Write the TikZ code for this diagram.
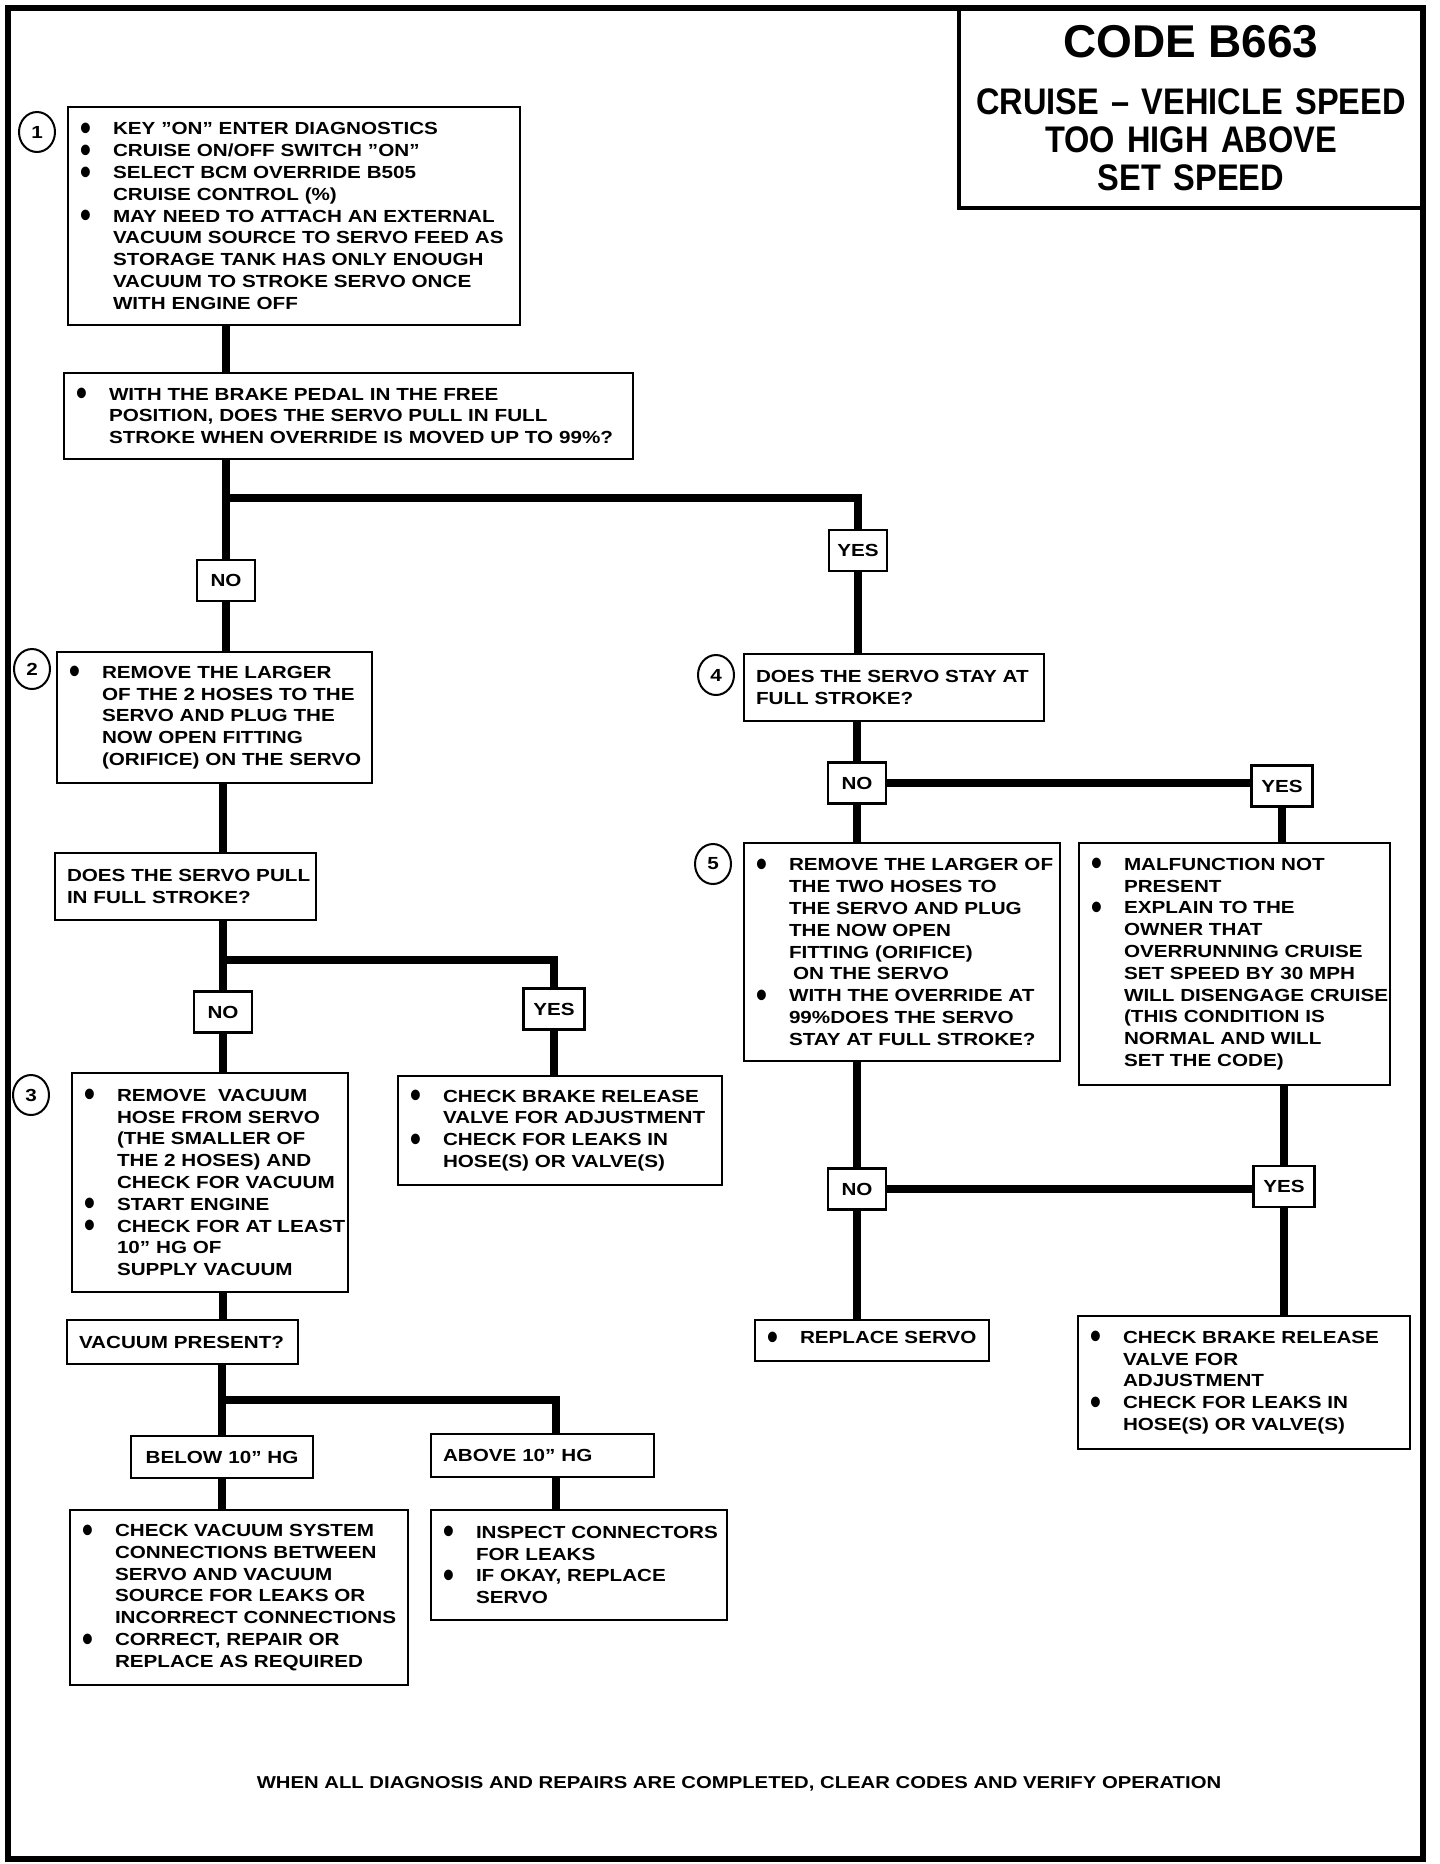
\documentclass[tikz,border=0pt]{standalone}
\usepackage{fontspec}
\usetikzlibrary{shapes.geometric}
\newfontfamily\bodyfont{Liberation Sans}[FakeStretch=1.18]
\newfontfamily\titlefont{Liberation Sans}
\newfontfamily\titlenarrow{Liberation Sans}[FakeStretch=0.88]
% 箇条書きの点と字下げ
\newcommand{\bdot}{\makebox[33pt][l]{\hspace{0pt}\raisebox{-5.6pt}{\scalebox{1.5}[2.1]{\textbullet}}}}
\newcommand{\bi}[1]{\mbox{\bdot#1}}
\newcommand{\ci}[1]{\mbox{\hspace*{33pt}#1}}

\begin{document}
\begin{tikzpicture}[x=1pt, y=-1pt,
    every node/.style={font=\bodyfont\bfseries\fontsize{17.5}{21.8}\selectfont},
    box/.style={draw, line width=2.8pt, inner xsep=12pt, inner ysep=0pt, align=left},
    yn/.style={draw, line width=2.8pt, inner sep=0pt, minimum width=58pt, minimum height=41pt},
    num/.style={draw, ellipse, line width=2pt, inner sep=0pt, minimum width=36pt, minimum height=40pt},
    conn/.style={line width=7.5pt}]
    \useasboundingbox (0,0) rectangle (1440,1864);

    % 外枠
    \draw[line width=6.5pt] (8,8) rectangle (1423,1859);

    % 表題
    \node[draw, line width=3.5pt, inner sep=0pt, minimum width=464pt, minimum height=200pt,
          text width=460pt, align=center, font=\titlefont\bfseries\fontsize{37}{38}\selectfont] (title) at (1191,108)
        {\mbox{\fontsize{46}{38}\selectfont CODE B663}\\[19pt]
         \titlenarrow\mbox{CRUISE – VEHICLE SPEED}\\\mbox{TOO HIGH ABOVE}\\\mbox{SET SPEED}};

    % 手順 1
    \node[num] (n1) at (37,132) {1};
    \node[box, text width=428pt, minimum height=218pt] (box1) at (294,216)
        {\bi{KEY ”ON” ENTER DIAGNOSTICS}\\
         \bi{CRUISE ON/OFF SWITCH ”ON”}\\
         \bi{SELECT BCM OVERRIDE B505}\\
         \ci{CRUISE CONTROL (\%)}\\
         \bi{MAY NEED TO ATTACH AN EXTERNAL}\\
         \ci{VACUUM SOURCE TO SERVO FEED AS}\\
         \ci{STORAGE TANK HAS ONLY ENOUGH}\\
         \ci{VACUUM TO STROKE SERVO ONCE}\\
         \ci{WITH ENGINE OFF}};

    % 最初の問い
    \node[box, text width=545pt, minimum height=86pt] (q1) at (348.5,416)
        {\bi{WITH THE BRAKE PEDAL IN THE FREE}\\
         \ci{POSITION, DOES THE SERVO PULL IN FULL}\\
         \ci{STROKE WHEN OVERRIDE IS MOVED UP TO 99\%?}};

    % 分岐(NO / YES)
    \node[yn] (no1) at (226,580.5) {NO};
    \node[yn] (yes1) at (858,550.5) {YES};
    \coordinate (br1) at (226,498);

    % 手順 2
    \node[num] (n2) at (32,669) {2};
    \node[box, text width=291pt, minimum height=131pt] (step2) at (214.5,717.5)
        {\bi{REMOVE THE LARGER}\\
         \ci{OF THE 2 HOSES TO THE}\\
         \ci{SERVO AND PLUG THE}\\
         \ci{NOW OPEN FITTING}\\
         \ci{(ORIFICE) ON THE SERVO}};

    \node[box, text width=237pt, minimum height=67pt] (q2) at (185.5,886.5)
        {\mbox{DOES THE SERVO PULL}\\\mbox{IN FULL STROKE?}};

    \node[yn] (no2) at (223,1012) {NO};
    \node[yn, minimum width=61pt] (yes2) at (554,1009) {YES};
    \coordinate (br2) at (223,960);

    % 手順 3
    \node[num] (n3) at (31,1095) {3};
    \node[box, text width=252pt, minimum height=219pt] (step3) at (210,1182.5)
        {\bi{REMOVE\ \ VACUUM}\\
         \ci{HOSE FROM SERVO}\\
         \ci{(THE SMALLER OF}\\
         \ci{THE 2 HOSES) AND}\\
         \ci{CHECK FOR VACUUM}\\
         \bi{START ENGINE}\\
         \bi{CHECK FOR AT LEAST}\\
         \ci{10” HG OF}\\
         \ci{SUPPLY VACUUM}};

    \node[box, text width=300pt, minimum height=109pt] (chk1) at (560,1130.5)
        {\bi{CHECK BRAKE RELEASE}\\
         \ci{VALVE FOR ADJUSTMENT}\\
         \bi{CHECK FOR LEAKS IN}\\
         \ci{HOSE(S) OR VALVE(S)}};

    % 負圧の確認
    \node[box, text width=207pt, minimum height=44pt] (vac) at (182.5,1342) {\mbox{VACUUM PRESENT?}};
    \node[box, text width=158pt, minimum height=42pt, align=center] (below) at (222,1457) {\mbox{BELOW 10” HG}};
    \node[box, text width=199pt, minimum height=43pt] (above) at (542.5,1455.5) {\mbox{ABOVE 10” HG}};
    \coordinate (br3) at (222,1400);

    \node[box, text width=314pt, minimum height=175pt] (chkvac) at (239,1597.5)
        {\bi{CHECK VACUUM SYSTEM}\\
         \ci{CONNECTIONS BETWEEN}\\
         \ci{SERVO AND VACUUM}\\
         \ci{SOURCE FOR LEAKS OR}\\
         \ci{INCORRECT CONNECTIONS}\\
         \bi{CORRECT, REPAIR OR}\\
         \ci{REPLACE AS REQUIRED}};

    \node[box, text width=272pt, minimum height=110pt] (inspect) at (579,1565)
        {\bi{INSPECT CONNECTORS}\\
         \ci{FOR LEAKS}\\
         \bi{IF OKAY, REPLACE}\\
         \ci{SERVO}};

    % 手順 4
    \node[num] (n4) at (716,675) {4};
    \node[box, text width=276pt, minimum height=67pt] (step4) at (894,687.5)
        {\mbox{DOES THE SERVO STAY AT}\\\mbox{FULL STROKE?}};

    \node[yn] (no3) at (857,783) {NO};
    \node[yn, minimum width=61pt] (yes3) at (1282,786) {YES};

    % 手順 5
    \node[num] (n5) at (713,864) {5};
    \node[box, text width=292pt, minimum height=218pt] (step5) at (902,952)
        {\bi{REMOVE THE LARGER OF}\\
         \ci{THE TWO HOSES TO}\\
         \ci{THE SERVO AND PLUG}\\
         \ci{THE NOW OPEN}\\
         \ci{FITTING (ORIFICE)}\\
         \ci{\hspace{4pt}ON THE SERVO}\\
         \bi{WITH THE OVERRIDE AT}\\
         \ci{99\%DOES THE SERVO}\\
         \ci{STAY AT FULL STROKE?}};

    \node[box, text width=287pt, minimum height=242pt] (malf) at (1234.5,964)
        {\bi{MALFUNCTION NOT}\\
         \ci{PRESENT}\\
         \bi{EXPLAIN TO THE}\\
         \ci{OWNER THAT}\\
         \ci{OVERRUNNING CRUISE}\\
         \ci{SET SPEED BY 30 MPH}\\
         \ci{WILL DISENGAGE CRUISE}\\
         \ci{(THIS CONDITION IS}\\
         \ci{NORMAL AND WILL}\\
         \ci{SET THE CODE)}};

    \node[yn] (no4) at (857,1189) {NO};
    \node[yn, minimum width=61pt] (yes4) at (1284,1186.5) {YES};

    \node[box, text width=210pt, minimum height=41pt] (replace) at (872,1340.5) {\bi{REPLACE SERVO}};
    \node[box, text width=308pt, minimum height=133pt] (chk2) at (1244,1382.5)
        {\bi{CHECK BRAKE RELEASE}\\
         \ci{VALVE FOR}\\
         \ci{ADJUSTMENT}\\
         \bi{CHECK FOR LEAKS IN}\\
         \ci{HOSE(S) OR VALVE(S)}};

    % 最後の注意
    \node[font=\bodyfont\bfseries\fontsize{17.2}{20}\selectfont] (note) at (739,1784)
        {WHEN ALL DIAGNOSIS AND REPAIRS ARE COMPLETED, CLEAR CODES AND VERIFY OPERATION};

    % 左側の線
    \draw[conn] (box1.south -| no1) -- (q1.north -| no1);
    \draw[conn] (q1.south -| no1) -- (no1.north);
    \draw[conn] (br1) -| (yes1.north);
    \draw[conn] (no1.south) -- (no1 |- step2.north);
    \draw[conn] (step2.south -| no2) -- (q2.north -| no2);
    \draw[conn] (q2.south -| no2) -- (no2.north);
    \draw[conn] (br2) -| (yes2.north);
    \draw[conn] (no2.south) -- (no2 |- step3.north);
    \draw[conn] (yes2.south) -- (yes2 |- chk1.north);
    \draw[conn] (step3.south -| no2) -- (vac.north -| no2);
    \draw[conn] (vac.south -| below) -- (below.north);
    \draw[conn] (br3) -| ([xshift=13.5pt]above.north);
    \draw[conn] (below.south) -- (below |- chkvac.north);
    \draw[conn] ([xshift=13.5pt]above.south) -- ([xshift=13.5pt]above.south |- inspect.north);

    % 右側の線
    \draw[conn] (yes1.south) -- (yes1 |- step4.north);
    \draw[conn] (no3 |- step4.south) -- (no3.north);
    \draw[conn] (no3.east) -- (no3.east -| yes3.west);
    \draw[conn] (no3.south) -- (no3 |- step5.north);
    \draw[conn] (yes3.south) -- (yes3 |- malf.north);
    \draw[conn] (no4 |- step5.south) -- (no4.north);
    \draw[conn] (yes4 |- malf.south) -- (yes4.north);
    \draw[conn] (no4.east) -- (no4.east -| yes4.west);
    \draw[conn] (no4.south) -- (no4 |- replace.north);
    \draw[conn] (yes4.south) -- (yes4 |- chk2.north);
\end{tikzpicture}
\end{document}
